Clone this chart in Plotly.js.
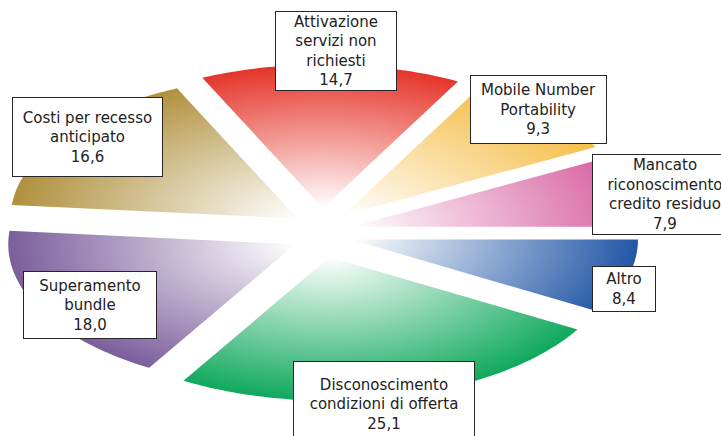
<!DOCTYPE html>
<html>
<head>
<meta charset="utf-8">
<script src="https://cdn.plot.ly/plotly-3.0.1.min.js"></script>
<style>
  html, body { margin: 0; padding: 0; background: #fff; }
  #grafico { width: 721px; height: 436px; }
</style>
</head>
<body>
<div id="grafico"></div>
<script>
// motivi di reclamo (valori in %), in senso orario dalle ore 12
const categorie = [
    'Attivazione<br>servizi non<br>richiesti',
    'Mobile Number<br>Portability',
    'Mancato<br>riconoscimento<br>credito residuo',
    'Altro',
    'Disconoscimento<br>condizioni di offerta',
    'Superamento<br>bundle',
    'Costi per recesso<br>anticipato'
];
const valori = [14.7, 9.3, 7.9, 8.4, 25.1, 18.0, 16.6];
const colori = ['#e5352a', '#f5be48', '#d862a2', '#2157a6', '#10a95c', '#7b5e9c', '#b0903d'];

// geometria della torta schiacciata (unita' = pixel)
const CX = 322, CY = 233;
const RX = 287, RY = 143.5;
const PULL_X = 30, PULL_Y = 25;   // esplosione degli spicchi
const ROTAZIONE = -24.84;         // gradi, inizio del primo spicchio

// riquadri delle etichette: centro x, centro y, larghezza, altezza
const riquadri = [
    [336, 51, 122, 80],
    [538.5, 109.5, 137, 69],
    [665, 194.5, 146, 81],
    [624, 289, 64, 46],
    [384, 404, 182, 86],
    [90, 305, 134, 68],
    [87.5, 137, 151, 80]
];

const totale = valori.reduce((a, b) => a + b, 0);
const rad = g => g * Math.PI / 180;

function spicchio(a0, a1, colore) {
    const mezzo = rad((a0 + a1) / 2);
    const ax = CX + PULL_X * Math.sin(mezzo);
    const ay = CY - PULL_Y * Math.cos(mezzo);
    const xs = [ax], ys = [ay];
    const n = Math.max(2, Math.ceil(a1 - a0));
    for (let i = 0; i <= n; i++) {
        const a = rad(a0 + (a1 - a0) * i / n);
        xs.push(ax + RX * Math.sin(a));
        ys.push(ay - RY * Math.cos(a));
    }
    xs.push(ax); ys.push(ay);
    // punte di area nulla: il riquadro del tracciato resta centrato sul vertice,
    // cosi' il gradiente radiale parte dal centro della torta
    [[-RX, 0], [RX, 0], [0, -RY], [0, RY]].forEach(function(d) {
        xs.push(ax + d[0], ax);
        ys.push(ay + d[1], ay);
    });
    return {
        type: 'scatter',
        mode: 'lines',
        x: xs,
        y: ys,
        fill: 'toself',
        line: { width: 0, simplify: false },
        fillgradient: { type: 'radial', colorscale: [[0, '#ffffff'], [1, colore]] },
        hoverinfo: 'skip',
        showlegend: false
    };
}

const traces = [];
const annotations = [];
let angolo = ROTAZIONE;
valori.forEach(function(v, i) {
    const ampiezza = v / totale * 360;
    traces.push(spicchio(angolo, angolo + ampiezza, colori[i]));
    angolo += ampiezza;

    const r = riquadri[i];
    annotations.push({
        xref: 'x', yref: 'y',
        x: r[0], y: r[1],
        xanchor: 'center', yanchor: 'middle',
        width: r[2] - 2, height: r[3] - 2,
        text: categorie[i] + '<br>' + v.toFixed(1).replace('.', ','),
        showarrow: false,
        align: 'center',
        valign: 'middle',
        bgcolor: '#ffffff',
        bordercolor: '#262626',
        borderwidth: 1,
        borderpad: 0,
        font: { family: 'DejaVu Sans', size: 15, color: '#222222' }
    });
});

const layout = {
    width: 721,
    height: 436,
    margin: { t: 0, b: 0, l: 0, r: 0 },
    paper_bgcolor: '#ffffff',
    plot_bgcolor: '#ffffff',
    xaxis: { range: [0, 721], visible: false, fixedrange: true },
    yaxis: { range: [436, 0], visible: false, fixedrange: true },
    showlegend: false,
    annotations: annotations
};

Plotly.newPlot('grafico', traces, layout, { displayModeBar: false, staticPlot: true });
</script>
</body>
</html>
